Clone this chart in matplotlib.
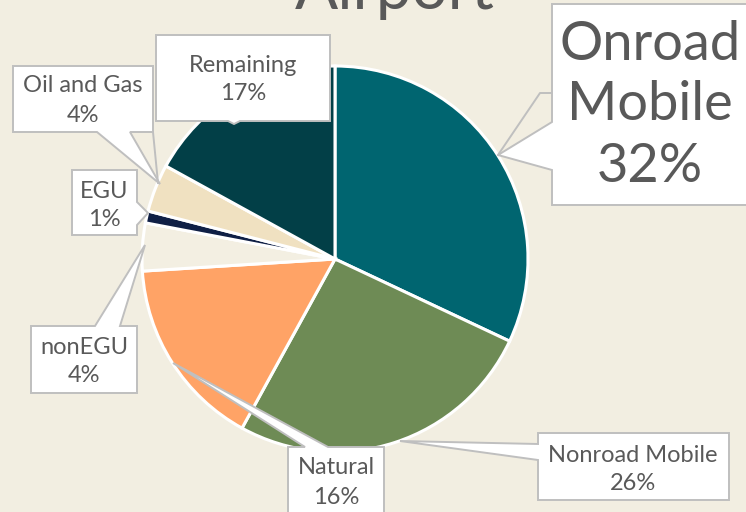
import matplotlib
matplotlib.use("Agg")
import matplotlib.pyplot as plt
from matplotlib.patches import Polygon

plt.rcParams['font.family'] = ['Lato', 'DejaVu Sans']

# pie data, clockwise from 12 o'clock
sectors = ["Onroad Mobile", "Nonroad Mobile", "Natural", "nonEGU", "EGU",
           "Oil and Gas", "Remaining"]
shares = [32, 26, 16, 4, 1, 4, 17]
colors = ["#006570", "#6E8B55", "#FFA366", "#F3EFE2", "#0F1F45",
          "#F0E1C1", "#023F47"]

W, H = 746, 512
bg = "#F2EEE1"
text_col = "#595959"
edge_col = "#BFBFBF"

fig = plt.figure(figsize=(W / 100, H / 100), dpi=100, facecolor=bg)
ax = fig.add_axes([0, 0, 1, 1])
ax.set_facecolor(bg)

ax.pie(shares, colors=colors, startangle=-90, counterclock=True,
       center=(335, 259), radius=193,
       wedgeprops=dict(edgecolor="white", linewidth=2.2))
ax.set_xlim(0, W)
ax.set_ylim(H, 0)
ax.set_aspect("equal")
ax.axis("off")

# title sits mostly above the top edge, as in the original
ax.text(395, 9, "Airport", fontsize=46, color=text_col, ha="center",
        va="baseline")


def callout(box, side, pts, lines, ys, cx, size, leader=None):
    x0, y0, x1, y1 = box
    corners = [(x0, y0), (x1, y0), (x1, y1), (x0, y1)]
    path = []
    for i, c in enumerate(corners):
        path.append(c)
        if i == side:
            path.extend(pts)
    ax.add_patch(Polygon(path, closed=True, facecolor="white",
                         edgecolor=edge_col, linewidth=1.4, zorder=5))
    if leader is not None:
        lx, ly = zip(*leader)
        ax.plot(lx, ly, color=edge_col, linewidth=1.4, zorder=4)
    for txt, y in zip(lines, ys):
        ax.text(cx, y, txt, fontsize=size, color=text_col, ha="center",
                va="center", zorder=6)


# side: 0 top, 1 right, 2 bottom, 3 left
callout((552, 4, 750, 205), 3, [(552, 170), (498, 155), (552, 122)],
        ["Onroad", "Mobile", f"{shares[0]}%"], [44, 105, 167], 650, 39,
        leader=[(552, 93), (540, 93), (498, 155)])
callout((538, 433, 729, 500), 3, [(538, 460), (400, 441), (538, 444)],
        [sectors[1], f"{shares[1]}%"], [455, 484], 633, 17)
callout((288, 447, 384, 520), 0, [(305, 447), (173, 363), (328, 447)],
        [sectors[2], f"{shares[2]}%"], [468, 497], 336, 17)
callout((31, 326, 137, 393), 0, [(95, 326), (145, 245), (120, 326)],
        [sectors[3], f"{shares[3]}%"], [348, 376], 84, 17)
callout((72, 170, 137, 235), 1, [(137, 202), (148, 213), (137, 225)],
        [sectors[4], f"{shares[4]}%"], [191, 219], 104, 17)
callout((13, 66, 153, 132), 2, [(130, 132), (160, 184), (97, 132)],
        [sectors[5], f"{shares[5]}%"], [86, 116], 83, 17,
        leader=[(153, 132), (158, 183)])
callout((156, 35, 330, 121), 2, [(240, 121), (234, 124), (228, 121)],
        [sectors[6], f"{shares[6]}%"], [66, 94], 243, 17)

fig.savefig("out.png", dpi=100, facecolor=bg)
